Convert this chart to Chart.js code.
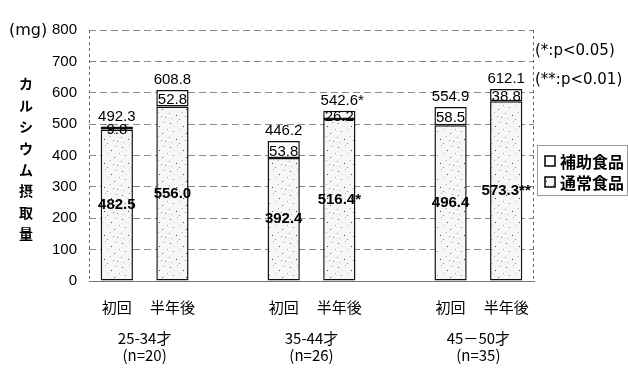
<!DOCTYPE html>
<html>
<head>
<meta charset="utf-8">
<script src="https://cdn.jsdelivr.net/npm/chart.js@4.4.1/dist/chart.umd.min.js"></script>
<style>
  html, body { margin: 0; padding: 0; background: #fff; }
</style>
</head>
<body>
<canvas id="chart" width="628" height="388"></canvas>
<script>
// values
const visits = ["初回", "半年後"];
const groups = ["25-34才", "35-44才", "45－50才"];
const groupN = ["(n=20)", "(n=26)", "(n=35)"];
const regular = [482.5, 556.0, 392.4, 516.4, 496.4, 573.3];   // 通常食品
const supplement = [9.8, 52.8, 53.8, 26.2, 58.5, 38.8];       // 補助食品
const totalMark = ["", "", "", "*", "", ""];
const regularMark = ["", "", "", "*", "", "**"];
const seriesNames = ["補助食品", "通常食品"];
const notes = ["(*:p<0.05)", "(**:p<0.01)"];
const yTitle = "カルシウム摂取量";
const yUnit = "(mg)";
const yMax = 800;
const yStep = 100;

// 8 slots on the x axis: two bars per group, an empty slot between groups
const labels = [];
const regData = [];
const supData = [];
const slotOf = [];
groups.forEach((g, gi) => {
  if (gi > 0) {
    labels.push("");
    regData.push(null);
    supData.push(null);
  }
  visits.forEach((v, vi) => {
    slotOf.push(labels.length);
    labels.push(v);
    regData.push(regular[gi * 2 + vi]);
    supData.push(supplement[gi * 2 + vi]);
  });
});
const groupCenters = groups.map((g, gi) => (slotOf[gi * 2] + slotOf[gi * 2 + 1]) / 2);

const canvas = document.getElementById("chart");
const ctx = canvas.getContext("2d");

// stippled fill for 通常食品
function stipple() {
  const c = document.createElement("canvas");
  c.width = 24;
  c.height = 24;
  const g = c.getContext("2d");
  g.fillStyle = "#f6f6f6";
  g.fillRect(0, 0, 24, 24);
  const dots = [
    [2, 3, "#666"], [9, 1, "#aaa"], [15, 6, "#444"], [20, 2, "#999"],
    [5, 11, "#888"], [12, 9, "#bbb"], [18, 13, "#555"], [1, 17, "#999"],
    [8, 19, "#444"], [14, 16, "#aaa"], [21, 21, "#777"], [11, 23, "#999"],
    [23, 9, "#bbb"], [6, 6, "#ccc"], [17, 20, "#888"], [3, 22, "#bbb"],
  ];
  dots.forEach(([x, y, col]) => {
    g.fillStyle = col;
    g.fillRect(x, y, 1, 1);
  });
  return ctx.createPattern(c, "repeat");
}
const dotFill = stipple();

const decorations = {
  id: "decorations",
  beforeDatasetsDraw(chart) {
    const { ctx, chartArea: a } = chart;
    ctx.save();
    ctx.strokeStyle = "#666";
    ctx.lineWidth = 1;
    ctx.setLineDash([3, 3]);
    ctx.beginPath();
    ctx.moveTo(a.left + 0.5, a.top);
    ctx.lineTo(a.left + 0.5, a.bottom);
    ctx.moveTo(a.right - 0.5, a.top);
    ctx.lineTo(a.right - 0.5, a.bottom);
    ctx.stroke();
    ctx.restore();
  },
  afterDatasetsDraw(chart) {
    const { ctx, chartArea: a } = chart;
    const m0 = chart.getDatasetMeta(0);
    const m1 = chart.getDatasetMeta(1);
    ctx.save();
    ctx.fillStyle = "#000";
    ctx.textBaseline = "middle";
    slotOf.forEach((slot, k) => {
      const r = m0.data[slot];
      const s = m1.data[slot];
      ctx.textAlign = "center";
      ctx.font = "bold 15px 'Liberation Sans'";
      ctx.fillText(regular[k].toFixed(1) + regularMark[k], r.x, (r.y + r.base) / 2);
      ctx.font = "15px 'Liberation Sans Narrow', 'Liberation Sans'";
      ctx.fillText(supplement[k].toFixed(1), s.x, (s.y + s.base) / 2 + 2);
      const tot = (regular[k] + supplement[k]).toFixed(1);
      const w = ctx.measureText(tot).width;
      ctx.textAlign = "left";
      ctx.fillText(tot + totalMark[k], s.x - w / 2, s.y - 10);
    });

    // unit and vertical axis title
    ctx.textAlign = "left";
    ctx.font = "16px 'DejaVu Sans'";
    ctx.fillText(yUnit, 9, a.top + 1);
    ctx.textAlign = "center";
    ctx.font = "bold 14px 'Noto Sans CJK JP'";
    const chars = Array.from(yTitle);
    const step = 21.4;
    const y0 = (a.top + a.bottom) / 2 + 3.5 - (step * (chars.length - 1)) / 2;
    chars.forEach((ch, i) => ctx.fillText(ch, 26, y0 + i * step));

    // significance notes
    ctx.textAlign = "left";
    ctx.font = "15px 'DejaVu Sans'";
    notes.forEach((t, i) => ctx.fillText(t, a.right + 1, a.top + 21 + i * 29));

    // legend
    const lx = a.right + 3;
    const ly = 145;
    ctx.strokeStyle = "#999";
    ctx.lineWidth = 1;
    ctx.strokeRect(lx + 0.5, ly + 0.5, 90, 50);
    const fills = ["#fff", dotFill];
    seriesNames.forEach((name, i) => {
      const cy = ly + 16 + i * 21;
      ctx.fillStyle = fills[i];
      ctx.fillRect(lx + 8, cy - 5, 10, 10);
      ctx.strokeStyle = "#000";
      ctx.lineWidth = 1.5;
      ctx.strokeRect(lx + 8, cy - 5, 10, 10);
      ctx.fillStyle = "#000";
      ctx.font = "bold 16px 'Noto Sans CJK JP'";
      ctx.fillText(name, lx + 23, cy + 1);
    });
    ctx.restore();
  },
};

new Chart(ctx, {
  type: "bar",
  data: {
    labels: labels,
    datasets: [
      {
        label: seriesNames[1],
        data: regData,
        backgroundColor: dotFill,
        borderColor: "#111",
        borderWidth: 1.5,
        borderSkipped: false,
        stack: "s",
        barPercentage: 0.58,
        categoryPercentage: 1,
      },
      {
        label: seriesNames[0],
        data: supData,
        backgroundColor: "#fff",
        borderColor: "#111",
        borderWidth: 1.5,
        borderSkipped: false,
        stack: "s",
        barPercentage: 0.58,
        categoryPercentage: 1,
      },
    ],
  },
  options: {
    responsive: false,
    animation: false,
    devicePixelRatio: 1,
    layout: { padding: { left: 0, top: 30, right: 94, bottom: 0 } },
    plugins: {
      legend: { display: false },
      tooltip: { enabled: false },
    },
    scales: {
      x: {
        stacked: true,
        weight: 0,
        grid: { display: false, drawTicks: false },
        border: { color: "#777", width: 1 },
        ticks: {
          autoSkip: false,
          maxRotation: 0,
          padding: 17,
          color: "#000",
          font: { family: "'Noto Sans CJK JP'", size: 15 },
        },
        afterFit: (s) => {
          s.height = 48;
        },
      },
      grp: {
        type: "linear",
        position: "bottom",
        weight: 1,
        offset: false,
        min: -0.5,
        max: labels.length - 0.5,
        grid: { display: false, drawTicks: false, offset: false },
        border: { display: false },
        afterBuildTicks: (s) => {
          s.ticks = groupCenters.map((v) => ({ value: v }));
        },
        ticks: {
          autoSkip: false,
          maxRotation: 0,
          padding: 1,
          color: "#000",
          font: { family: "'Noto Sans CJK JP'", size: 15, lineHeight: 17 / 15 },
          callback: (v) => {
            const gi = groupCenters.indexOf(v);
            return gi < 0 ? "" : [groups[gi], groupN[gi]];
          },
        },
        afterFit: (s) => {
          s.height = 59;
        },
      },
      y: {
        stacked: true,
        min: 0,
        max: yMax,
        grid: { color: "#8a8a8a", lineWidth: 1, drawTicks: false },
        border: { display: false, dash: [7, 4] },
        ticks: {
          stepSize: yStep,
          padding: 12,
          color: "#000",
          font: { family: "'Liberation Sans'", size: 15 },
        },
        afterFit: (s) => {
          s.width = 89;
        },
      },
    },
  },
  plugins: [decorations],
});
</script>
</body>
</html>
